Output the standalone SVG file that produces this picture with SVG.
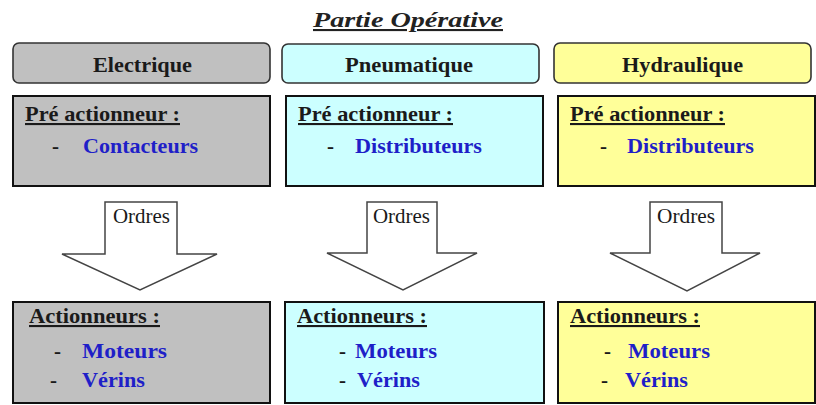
<svg xmlns="http://www.w3.org/2000/svg" width="816" height="405" viewBox="0 0 816 405">
  <style>
    text { font-family: 'Liberation Serif', 'DejaVu Serif', serif; font-weight: bold; font-size: 21px; fill: #1a1a1a; }
    .title { font-style: italic; text-decoration: underline; fill: #222; }
    .lbl { text-decoration: underline; }
    .item { fill: #1f1fc8; }
    .dash { fill: #1a1a1a; }
    .ord { font-weight: normal; font-size: 20px; }
    .hbox { stroke: #333; stroke-width: 1.6; }
    .box { stroke: #111; stroke-width: 2; }
    .arrow { fill: #ffffff; stroke: #444; stroke-width: 1.5; stroke-linejoin: miter; }
    .gray { fill: #c0c0c0; }
    .cyan { fill: #ccffff; }
    .yellow { fill: #ffff99; }
  </style>
  <rect width="816" height="405" fill="#ffffff"/>

  <text class="title" x="313" y="27" textLength="190" lengthAdjust="spacingAndGlyphs">Partie Opérative</text>

  <!-- column headers -->
  <g id="electrique">
    <rect class="hbox gray" x="13" y="43" width="257" height="40" rx="6"/>
    <text x="93" y="72" textLength="99" lengthAdjust="spacingAndGlyphs">Electrique</text>
  </g>
  <g id="pneumatique">
    <rect class="hbox cyan" x="282" y="44" width="257" height="39" rx="6"/>
    <text x="345" y="72" textLength="128" lengthAdjust="spacingAndGlyphs">Pneumatique</text>
  </g>
  <g id="hydraulique">
    <rect class="hbox yellow" x="554" y="43" width="257" height="40" rx="6"/>
    <text x="622" y="72" textLength="121" lengthAdjust="spacingAndGlyphs">Hydraulique</text>
  </g>

  <!-- pre-actuators -->
  <g id="pre-electrique">
    <rect class="box gray" x="13" y="96" width="257" height="90"/>
    <text class="lbl" x="25" y="121" textLength="155" lengthAdjust="spacingAndGlyphs">Pré actionneur :</text>
    <text class="dash" x="52" y="153">-</text>
    <text class="item" x="83" y="153" textLength="115" lengthAdjust="spacingAndGlyphs">Contacteurs</text>
  </g>
  <g id="pre-pneumatique">
    <rect class="box cyan" x="286" y="96" width="257" height="90"/>
    <text class="lbl" x="298" y="121" textLength="155" lengthAdjust="spacingAndGlyphs">Pré actionneur :</text>
    <text class="dash" x="327" y="153">-</text>
    <text class="item" x="355" y="153" textLength="127" lengthAdjust="spacingAndGlyphs">Distributeurs</text>
  </g>
  <g id="pre-hydraulique">
    <rect class="box yellow" x="558" y="96" width="257" height="90"/>
    <text class="lbl" x="570" y="121" textLength="155" lengthAdjust="spacingAndGlyphs">Pré actionneur :</text>
    <text class="dash" x="600" y="153">-</text>
    <text class="item" x="627" y="153" textLength="127" lengthAdjust="spacingAndGlyphs">Distributeurs</text>
  </g>

  <!-- "Ordres" block arrows -->
  <g id="connectors">
    <polygon class="arrow" points="105,202 177,202 177,254 217,254 140,290 62,254 105,254"/>
    <text class="ord" x="113" y="223" textLength="57" lengthAdjust="spacingAndGlyphs">Ordres</text>
    <polygon class="arrow" points="367,202 437,202 437,253 477,253 403,290 327,253 367,253"/>
    <text class="ord" x="373" y="223" textLength="57" lengthAdjust="spacingAndGlyphs">Ordres</text>
    <polygon class="arrow" points="650,202 722,202 722,253 760,253 687,291 610,253 650,253"/>
    <text class="ord" x="657" y="223" textLength="58" lengthAdjust="spacingAndGlyphs">Ordres</text>
  </g>

  <!-- actuators -->
  <g id="act-electrique">
    <rect class="box gray" x="13" y="302" width="257" height="101"/>
    <text class="lbl" x="29" y="323" textLength="131" lengthAdjust="spacingAndGlyphs">Actionneurs :</text>
    <text class="dash" x="54" y="358">-</text>
    <text class="item" x="82" y="358" textLength="85" lengthAdjust="spacingAndGlyphs">Moteurs</text>
    <text class="dash" x="50" y="387">-</text>
    <text class="item" x="82" y="387" textLength="63" lengthAdjust="spacingAndGlyphs">Vérins</text>
  </g>
  <g id="act-pneumatique">
    <rect class="box cyan" x="285" y="302" width="259" height="101"/>
    <text class="lbl" x="297" y="323" textLength="130" lengthAdjust="spacingAndGlyphs">Actionneurs :</text>
    <text class="dash" x="339" y="358">-</text>
    <text class="item" x="355" y="358" textLength="82" lengthAdjust="spacingAndGlyphs">Moteurs</text>
    <text class="dash" x="339" y="387">-</text>
    <text class="item" x="357" y="387" textLength="63" lengthAdjust="spacingAndGlyphs">Vérins</text>
  </g>
  <g id="act-hydraulique">
    <rect class="box yellow" x="558" y="302" width="257" height="101"/>
    <text class="lbl" x="570" y="323" textLength="130" lengthAdjust="spacingAndGlyphs">Actionneurs :</text>
    <text class="dash" x="604" y="358">-</text>
    <text class="item" x="628" y="358" textLength="82" lengthAdjust="spacingAndGlyphs">Moteurs</text>
    <text class="dash" x="601" y="387">-</text>
    <text class="item" x="625" y="387" textLength="63" lengthAdjust="spacingAndGlyphs">Vérins</text>
  </g>
</svg>
